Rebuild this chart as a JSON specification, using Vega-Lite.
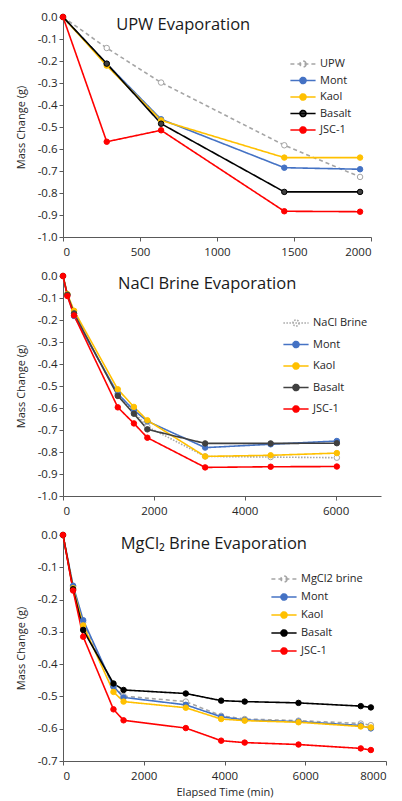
{
  "$schema": "https://vega.github.io/schema/vega-lite/v6.json",
  "padding": {"left": 15, "top": 11, "right": 5, "bottom": 0},
  "spacing": 12,
  "config": {
    "view": {"stroke": null},
    "locale": {"number": {"decimal": ".", "thousands": ",", "grouping": [3], "currency": ["$", ""], "minus": "-"}},
    "axis": {"grid": false, "domainColor": "#595959", "tickColor": "#595959", "labelColor": "#262626", "titleColor": "#262626", "labelFont": "Open Sans", "titleFont": "Open Sans", "labelFontSize": 11.5, "titleFontSize": 11, "titleFontWeight": "normal", "tickSize": 4, "titlePadding": 4},
    "axisX": {"labelPadding": 5, "titlePadding": 5},
    "legend": {"labelFont": "Open Sans", "labelFontSize": 11, "labelColor": "#262626"}
  },
  "datasets": {
    "upw": [
      {"s": "UPW", "t": 0, "m": 0}, {"s": "UPW", "t": 284, "m": -0.141}, {"s": "UPW", "t": 637, "m": -0.298}, {"s": "UPW", "t": 1437, "m": -0.583}, {"s": "UPW", "t": 1929, "m": -0.727},
      {"s": "Mont", "t": 0, "m": 0}, {"s": "Mont", "t": 284, "m": -0.213}, {"s": "Mont", "t": 637, "m": -0.465}, {"s": "Mont", "t": 1437, "m": -0.685}, {"s": "Mont", "t": 1929, "m": -0.692},
      {"s": "Kaol", "t": 0, "m": 0}, {"s": "Kaol", "t": 284, "m": -0.221}, {"s": "Kaol", "t": 637, "m": -0.47}, {"s": "Kaol", "t": 1437, "m": -0.639}, {"s": "Kaol", "t": 1929, "m": -0.639},
      {"s": "Basalt", "t": 0, "m": 0}, {"s": "Basalt", "t": 284, "m": -0.212}, {"s": "Basalt", "t": 637, "m": -0.485}, {"s": "Basalt", "t": 1437, "m": -0.795}, {"s": "Basalt", "t": 1929, "m": -0.795},
      {"s": "JSC-1", "t": 0, "m": 0}, {"s": "JSC-1", "t": 284, "m": -0.567}, {"s": "JSC-1", "t": 637, "m": -0.515}, {"s": "JSC-1", "t": 1437, "m": -0.883}, {"s": "JSC-1", "t": 1929, "m": -0.885}
    ],
    "nacl": [
      {"s": "NaCl Brine", "t": 0, "m": 0}, {"s": "NaCl Brine", "t": 96, "m": -0.085}, {"s": "NaCl Brine", "t": 244, "m": -0.18}, {"s": "NaCl Brine", "t": 1206, "m": -0.54}, {"s": "NaCl Brine", "t": 1561, "m": -0.62}, {"s": "NaCl Brine", "t": 1857, "m": -0.685}, {"s": "NaCl Brine", "t": 3129, "m": -0.82}, {"s": "NaCl Brine", "t": 4571, "m": -0.823}, {"s": "NaCl Brine", "t": 6028, "m": -0.826},
      {"s": "Mont", "t": 0, "m": 0}, {"s": "Mont", "t": 96, "m": -0.085}, {"s": "Mont", "t": 244, "m": -0.182}, {"s": "Mont", "t": 1206, "m": -0.535}, {"s": "Mont", "t": 1561, "m": -0.61}, {"s": "Mont", "t": 1857, "m": -0.66}, {"s": "Mont", "t": 3129, "m": -0.78}, {"s": "Mont", "t": 4571, "m": -0.765}, {"s": "Mont", "t": 6028, "m": -0.75},
      {"s": "Kaol", "t": 0, "m": 0}, {"s": "Kaol", "t": 96, "m": -0.082}, {"s": "Kaol", "t": 244, "m": -0.158}, {"s": "Kaol", "t": 1206, "m": -0.515}, {"s": "Kaol", "t": 1561, "m": -0.595}, {"s": "Kaol", "t": 1857, "m": -0.656}, {"s": "Kaol", "t": 3129, "m": -0.82}, {"s": "Kaol", "t": 4571, "m": -0.815}, {"s": "Kaol", "t": 6028, "m": -0.805},
      {"s": "Basalt", "t": 0, "m": 0}, {"s": "Basalt", "t": 96, "m": -0.085}, {"s": "Basalt", "t": 244, "m": -0.17}, {"s": "Basalt", "t": 1206, "m": -0.545}, {"s": "Basalt", "t": 1561, "m": -0.626}, {"s": "Basalt", "t": 1857, "m": -0.697}, {"s": "Basalt", "t": 3129, "m": -0.761}, {"s": "Basalt", "t": 4571, "m": -0.761}, {"s": "Basalt", "t": 6028, "m": -0.76},
      {"s": "JSC-1", "t": 0, "m": 0}, {"s": "JSC-1", "t": 96, "m": -0.091}, {"s": "JSC-1", "t": 244, "m": -0.179}, {"s": "JSC-1", "t": 1206, "m": -0.597}, {"s": "JSC-1", "t": 1561, "m": -0.67}, {"s": "JSC-1", "t": 1857, "m": -0.735}, {"s": "JSC-1", "t": 3129, "m": -0.87}, {"s": "JSC-1", "t": 4571, "m": -0.867}, {"s": "JSC-1", "t": 6028, "m": -0.866}
    ],
    "mgcl": [
      {"s": "MgCl2 brine", "t": 0, "m": 0}, {"s": "MgCl2 brine", "t": 250, "m": -0.16}, {"s": "MgCl2 brine", "t": 500, "m": -0.27}, {"s": "MgCl2 brine", "t": 1250, "m": -0.47}, {"s": "MgCl2 brine", "t": 1500, "m": -0.499}, {"s": "MgCl2 brine", "t": 3042, "m": -0.516}, {"s": "MgCl2 brine", "t": 3917, "m": -0.56}, {"s": "MgCl2 brine", "t": 4500, "m": -0.57}, {"s": "MgCl2 brine", "t": 5833, "m": -0.575}, {"s": "MgCl2 brine", "t": 7375, "m": -0.584}, {"s": "MgCl2 brine", "t": 7625, "m": -0.589},
      {"s": "Mont", "t": 0, "m": 0}, {"s": "Mont", "t": 250, "m": -0.157}, {"s": "Mont", "t": 500, "m": -0.264}, {"s": "Mont", "t": 1250, "m": -0.469}, {"s": "Mont", "t": 1500, "m": -0.503}, {"s": "Mont", "t": 3042, "m": -0.526}, {"s": "Mont", "t": 3917, "m": -0.563}, {"s": "Mont", "t": 4500, "m": -0.573}, {"s": "Mont", "t": 5833, "m": -0.578}, {"s": "Mont", "t": 7375, "m": -0.59}, {"s": "Mont", "t": 7625, "m": -0.599},
      {"s": "Kaol", "t": 0, "m": 0}, {"s": "Kaol", "t": 250, "m": -0.165}, {"s": "Kaol", "t": 500, "m": -0.28}, {"s": "Kaol", "t": 1250, "m": -0.486}, {"s": "Kaol", "t": 1500, "m": -0.516}, {"s": "Kaol", "t": 3042, "m": -0.535}, {"s": "Kaol", "t": 3917, "m": -0.57}, {"s": "Kaol", "t": 4500, "m": -0.575}, {"s": "Kaol", "t": 5833, "m": -0.58}, {"s": "Kaol", "t": 7375, "m": -0.593}, {"s": "Kaol", "t": 7625, "m": -0.596},
      {"s": "Basalt", "t": 0, "m": 0}, {"s": "Basalt", "t": 250, "m": -0.168}, {"s": "Basalt", "t": 500, "m": -0.294}, {"s": "Basalt", "t": 1250, "m": -0.46}, {"s": "Basalt", "t": 1500, "m": -0.48}, {"s": "Basalt", "t": 3042, "m": -0.491}, {"s": "Basalt", "t": 3917, "m": -0.513}, {"s": "Basalt", "t": 4500, "m": -0.516}, {"s": "Basalt", "t": 5833, "m": -0.52}, {"s": "Basalt", "t": 7375, "m": -0.53}, {"s": "Basalt", "t": 7625, "m": -0.534},
      {"s": "JSC-1", "t": 0, "m": 0}, {"s": "JSC-1", "t": 250, "m": -0.172}, {"s": "JSC-1", "t": 500, "m": -0.315}, {"s": "JSC-1", "t": 1250, "m": -0.54}, {"s": "JSC-1", "t": 1500, "m": -0.574}, {"s": "JSC-1", "t": 3042, "m": -0.598}, {"s": "JSC-1", "t": 3917, "m": -0.637}, {"s": "JSC-1", "t": 4500, "m": -0.643}, {"s": "JSC-1", "t": 5833, "m": -0.649}, {"s": "JSC-1", "t": 7375, "m": -0.661}, {"s": "JSC-1", "t": 7625, "m": -0.666}
    ]
  },
  "resolve": {"scale": {"stroke": "independent", "fill": "independent", "strokeDash": "independent"}, "legend": {"stroke": "independent", "fill": "independent", "strokeDash": "independent"}},
  "vconcat": [
    {
      "width": 308, "height": 220,
      "data": {"name": "upw"},
      "encoding": {
        "x": {"field": "t", "type": "quantitative", "scale": {"domain": [0, 2000], "nice": false}, "axis": {"title": null, "values": [0, 500, 1000, 1500, 2000], "format": "d"}},
        "y": {"field": "m", "type": "quantitative", "scale": {"domain": [-1, 0], "nice": false}, "axis": {"title": "Mass Change (g)", "minExtent": 33, "values": [-1, -0.9, -0.8, -0.7, -0.6, -0.5, -0.4, -0.3, -0.2, -0.1, 0], "format": ".1f"}}
      },
      "layer": [
        {"data": {"values": [{"label": "UPW Evaporation", "tx": 345, "ty": -0.059}]},
         "mark": {"type": "text", "font": "Open Sans", "fontSize": 16.5, "fill": "#1a1a1a", "align": "left", "baseline": "alphabetic"},
         "encoding": {"x": {"field": "tx", "type": "quantitative"}, "y": {"field": "ty", "type": "quantitative"}, "text": {"field": "label", "type": "nominal"}}},
        {"mark": {"type": "line", "strokeWidth": 1.6},
         "encoding": {
           "stroke": {"field": "s", "type": "nominal", "scale": {"domain": ["UPW", "Mont", "Kaol", "Basalt", "JSC-1"], "range": ["#A5A5A5", "#4472C4", "#FFC000", "#000000", "#FF0000"]}, "legend": {"orient": "none", "legendX": 232, "legendY": 39, "title": null, "symbolType": "M-1.8,0L1.8,0M0.43,0A0.43,0.43,0,1,1,-0.43,0A0.43,0.43,0,1,1,0.43,0Z", "symbolSize": 196, "symbolStrokeWidth": 1.6, "labelOffset": 9, "rowPadding": 1.5}},
           "strokeDash": {"field": "s", "type": "nominal", "scale": {"domain": ["UPW", "Mont", "Kaol", "Basalt", "JSC-1"], "range": [[4, 3], [1, 0], [1, 0], [1, 0], [1, 0]]}, "legend": {"orient": "none", "legendX": 232, "legendY": 39, "title": null, "symbolType": "M-1.8,0L1.8,0M0.43,0A0.43,0.43,0,1,1,-0.43,0A0.43,0.43,0,1,1,0.43,0Z", "symbolSize": 196, "symbolStrokeWidth": 1.6, "labelOffset": 9, "rowPadding": 1.5}}
         }},
        {"mark": {"type": "point", "shape": "circle", "size": 30, "strokeWidth": 1, "opacity": 1},
         "encoding": {
           "stroke": {"field": "s", "type": "nominal"},
           "fill": {"field": "s", "type": "nominal", "scale": {"domain": ["UPW", "Mont", "Kaol", "Basalt", "JSC-1"], "range": ["#FFFFFF", "#4472C4", "#FFC000", "#404040", "#FF0000"]}, "legend": {"orient": "none", "legendX": 232, "legendY": 39, "title": null, "symbolType": "M-1.8,0L1.8,0M0.43,0A0.43,0.43,0,1,1,-0.43,0A0.43,0.43,0,1,1,0.43,0Z", "symbolSize": 196, "symbolStrokeWidth": 1.6, "labelOffset": 9, "rowPadding": 1.5}}
         }}
      ]
    },
    {
      "width": 318, "height": 220,
      "data": {"name": "nacl"},
      "encoding": {
        "x": {"field": "t", "type": "quantitative", "scale": {"domain": [0, 7000], "nice": false}, "axis": {"title": null, "values": [0, 2000, 4000, 6000], "format": "d"}},
        "y": {"field": "m", "type": "quantitative", "scale": {"domain": [-1, 0], "nice": false}, "axis": {"title": "Mass Change (g)", "minExtent": 33, "values": [-1, -0.9, -0.8, -0.7, -0.6, -0.5, -0.4, -0.3, -0.2, -0.1, 0], "format": ".1f"}}
      },
      "layer": [
        {"data": {"values": [{"label": "NaCl Brine Evaporation", "tx": 1210, "ty": -0.059}]},
         "mark": {"type": "text", "font": "Open Sans", "fontSize": 16.5, "fill": "#1a1a1a", "align": "left", "baseline": "alphabetic"},
         "encoding": {"x": {"field": "tx", "type": "quantitative"}, "y": {"field": "ty", "type": "quantitative"}, "text": {"field": "label", "type": "nominal"}}},
        {"mark": {"type": "line", "strokeWidth": 1.6},
         "encoding": {
           "stroke": {"field": "s", "type": "nominal", "scale": {"domain": ["NaCl Brine", "Mont", "Kaol", "Basalt", "JSC-1"], "range": ["#A5A5A5", "#4472C4", "#FFC000", "#404040", "#FF0000"]}, "legend": {"orient": "none", "legendX": 225, "legendY": 39, "title": null, "symbolType": "M-1.8,0L1.8,0M0.43,0A0.43,0.43,0,1,1,-0.43,0A0.43,0.43,0,1,1,0.43,0Z", "symbolSize": 196, "symbolStrokeWidth": 1.6, "labelOffset": 9, "rowPadding": 6.5}},
           "strokeDash": {"field": "s", "type": "nominal", "scale": {"domain": ["NaCl Brine", "Mont", "Kaol", "Basalt", "JSC-1"], "range": [[1.5, 1.5], [1, 0], [1, 0], [1, 0], [1, 0]]}, "legend": {"orient": "none", "legendX": 225, "legendY": 39, "title": null, "symbolType": "M-1.8,0L1.8,0M0.43,0A0.43,0.43,0,1,1,-0.43,0A0.43,0.43,0,1,1,0.43,0Z", "symbolSize": 196, "symbolStrokeWidth": 1.6, "labelOffset": 9, "rowPadding": 6.5}}
         }},
        {"mark": {"type": "point", "shape": "circle", "size": 30, "strokeWidth": 1, "opacity": 1},
         "encoding": {
           "stroke": {"field": "s", "type": "nominal"},
           "fill": {"field": "s", "type": "nominal", "scale": {"domain": ["NaCl Brine", "Mont", "Kaol", "Basalt", "JSC-1"], "range": ["#FFFFFF", "#4472C4", "#FFC000", "#404040", "#FF0000"]}, "legend": {"orient": "none", "legendX": 225, "legendY": 39, "title": null, "symbolType": "M-1.8,0L1.8,0M0.43,0A0.43,0.43,0,1,1,-0.43,0A0.43,0.43,0,1,1,0.43,0Z", "symbolSize": 196, "symbolStrokeWidth": 1.6, "labelOffset": 9, "rowPadding": 6.5}}
         }}
      ]
    },
    {
      "width": 323, "height": 226,
      "data": {"name": "mgcl"},
      "encoding": {
        "x": {"field": "t", "type": "quantitative", "scale": {"domain": [0, 8000], "nice": false}, "axis": {"title": "Elapsed Time (min)", "values": [0, 2000, 4000, 6000, 8000], "format": "d"}},
        "y": {"field": "m", "type": "quantitative", "scale": {"domain": [-0.7, 0], "nice": false}, "axis": {"title": "Mass Change (g)", "minExtent": 33, "values": [-0.7, -0.6, -0.5, -0.4, -0.3, -0.2, -0.1, 0], "format": ".1f"}}
      },
      "layer": [
        {"data": {"values": [{"label": "MgCl₂ Brine Evaporation", "tx": 1430, "ty": -0.043}]},
         "mark": {"type": "text", "font": "Open Sans", "fontSize": 16.5, "fill": "#1a1a1a", "align": "left", "baseline": "alphabetic"},
         "encoding": {"x": {"field": "tx", "type": "quantitative"}, "y": {"field": "ty", "type": "quantitative"}, "text": {"field": "label", "type": "nominal"}}},
        {"mark": {"type": "line", "strokeWidth": 1.6},
         "encoding": {
           "stroke": {"field": "s", "type": "nominal", "scale": {"domain": ["MgCl2 brine", "Mont", "Kaol", "Basalt", "JSC-1"], "range": ["#A5A5A5", "#4472C4", "#FFC000", "#000000", "#FF0000"]}, "legend": {"orient": "none", "legendX": 213, "legendY": 36, "title": null, "symbolType": "M-1.8,0L1.8,0M0.43,0A0.43,0.43,0,1,1,-0.43,0A0.43,0.43,0,1,1,0.43,0Z", "symbolSize": 196, "symbolStrokeWidth": 1.6, "labelOffset": 9, "rowPadding": 3}},
           "strokeDash": {"field": "s", "type": "nominal", "scale": {"domain": ["MgCl2 brine", "Mont", "Kaol", "Basalt", "JSC-1"], "range": [[4, 3], [1, 0], [1, 0], [1, 0], [1, 0]]}, "legend": {"orient": "none", "legendX": 213, "legendY": 36, "title": null, "symbolType": "M-1.8,0L1.8,0M0.43,0A0.43,0.43,0,1,1,-0.43,0A0.43,0.43,0,1,1,0.43,0Z", "symbolSize": 196, "symbolStrokeWidth": 1.6, "labelOffset": 9, "rowPadding": 3}}
         }},
        {"mark": {"type": "point", "shape": "circle", "size": 30, "strokeWidth": 1, "opacity": 1},
         "encoding": {
           "stroke": {"field": "s", "type": "nominal"},
           "fill": {"field": "s", "type": "nominal", "scale": {"domain": ["MgCl2 brine", "Mont", "Kaol", "Basalt", "JSC-1"], "range": ["#FFFFFF", "#4472C4", "#FFC000", "#000000", "#FF0000"]}, "legend": {"orient": "none", "legendX": 213, "legendY": 36, "title": null, "symbolType": "M-1.8,0L1.8,0M0.43,0A0.43,0.43,0,1,1,-0.43,0A0.43,0.43,0,1,1,0.43,0Z", "symbolSize": 196, "symbolStrokeWidth": 1.6, "labelOffset": 9, "rowPadding": 3}}
         }}
      ]
    }
  ]
}
